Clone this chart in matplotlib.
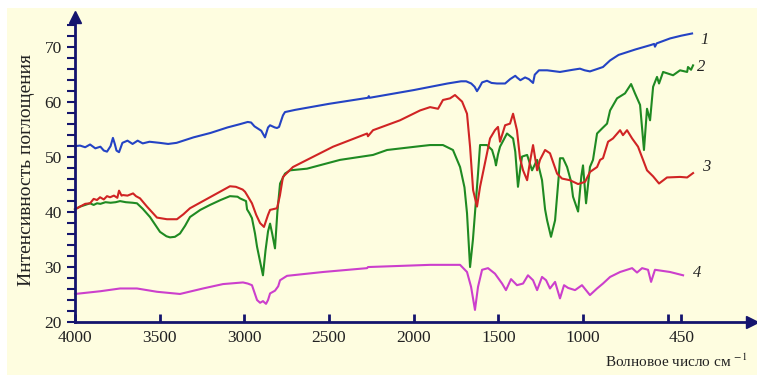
import matplotlib
matplotlib.use("Agg")
import matplotlib.pyplot as plt
from matplotlib.patches import Rectangle
from matplotlib.ticker import MultipleLocator

plt.rcParams['font.family'] = ['Liberation Serif', 'DejaVu Serif']
plt.rcParams['mathtext.fontset'] = 'stix'

# Spectrum 1 (blue)
w1 = [4000, 3970, 3940, 3911, 3880, 3850, 3830, 3811, 3790, 3776, 3765, 3755, 3740, 3720,
      3690, 3660, 3630, 3600, 3560, 3500, 3450, 3400, 3300, 3200, 3100, 3026, 2980, 2960,
      2940, 2900, 2878, 2860, 2848, 2820, 2807, 2795, 2772, 2760, 2700, 2500, 2270, 2265,
      2260, 2000, 1800, 1720, 1690, 1660, 1640, 1626, 1610, 1596, 1567, 1540, 1508, 1460,
      1430, 1400, 1390, 1370, 1342, 1320, 1295, 1285, 1260, 1212, 1136, 1060, 1018, 990,
      959, 920, 882, 840, 790, 740, 690, 645, 600, 580, 575, 565, 486, 420, 356]
s1 = [52.0, 52.1, 51.8, 52.3, 51.6, 51.9, 51.2, 51.0, 52.0, 53.5, 52.4, 51.2, 50.9, 52.6,
      53.0, 52.4, 53.0, 52.5, 52.8, 52.6, 52.4, 52.6, 53.6, 54.4, 55.4, 56.0, 56.4, 56.3,
      55.6, 54.8, 53.6, 55.4, 55.8, 55.4, 55.3, 55.5, 57.6, 58.2, 58.6, 59.7, 60.8, 61.1,
      60.8, 62.2, 63.4, 63.8, 63.8, 63.4, 62.8, 62.0, 62.8, 63.6, 63.9, 63.5, 63.4, 63.4,
      64.2, 64.8, 64.5, 64.0, 64.5, 64.2, 63.5, 65.0, 65.8, 65.8, 65.5, 65.9, 66.1, 65.8,
      65.6, 66.0, 66.4, 67.6, 68.6, 69.1, 69.6, 70.0, 70.4, 70.6, 70.1, 70.7, 71.6, 72.1, 72.5]

# Spectrum 2 (green)
w2 = [4000, 3970, 3940, 3911, 3890, 3870, 3850, 3820, 3790, 3760, 3734, 3700, 3660, 3634,
      3600, 3557, 3498, 3460, 3439, 3410, 3380, 3350, 3321, 3260, 3203, 3140, 3085, 3040,
      3026, 2990, 2984, 2970, 2955, 2937, 2925, 2907, 2890, 2875, 2860, 2848, 2835, 2819,
      2805, 2789, 2760, 2730, 2630, 2435, 2240, 2157, 1962, 1903, 1827, 1768, 1726, 1700,
      1685, 1667, 1650, 1638, 1620, 1608, 1567, 1537, 1520, 1514, 1502, 1490, 1449, 1413,
      1400, 1384, 1370, 1360, 1330, 1301, 1271, 1242, 1224, 1212, 1189, 1165, 1142, 1136,
      1118, 1094, 1070, 1059, 1029, 1010, 1000, 982, 959, 941, 917, 888, 858, 840, 799,
      752, 716, 693, 663, 640, 622, 604, 586, 563, 551, 527, 468, 427, 385, 380, 362, 350]
s2 = [40.5, 41.0, 41.3, 41.6, 41.3, 41.6, 41.5, 41.8, 41.7, 41.8, 42.0, 41.8, 41.7, 41.6,
      40.6, 39.1, 36.4, 35.6, 35.4, 35.5, 36.1, 37.5, 39.1, 40.4, 41.3, 42.2, 42.9, 42.8,
      42.5, 42.0, 40.5, 39.8, 38.9, 36.1, 33.7, 31.0, 28.5, 33.0, 36.5, 37.9, 36.0, 33.4,
      40.0, 45.2, 47.0, 47.6, 47.9, 49.5, 50.4, 51.3, 52.0, 52.2, 52.2, 51.3, 48.2, 44.5,
      39.8, 30.0, 35.0, 39.8, 47.0, 52.2, 52.2, 51.3, 49.5, 48.5, 50.5, 51.9, 54.3, 53.4,
      51.0, 44.6, 48.0, 50.1, 50.4, 47.6, 49.5, 45.8, 40.5, 38.5, 35.5, 38.5, 47.0, 49.8,
      49.8, 48.2, 45.5, 42.8, 40.1, 46.5, 48.5, 41.6, 48.2, 49.5, 54.3, 55.2, 56.1, 58.5, 60.7,
      61.6, 63.3, 61.6, 59.5, 51.3, 58.8, 56.7, 62.8, 64.6, 63.4, 65.5, 64.9, 65.8, 65.5, 66.4, 65.9, 66.7]

# Spectrum 3 (red)
w3 = [4000, 3970, 3940, 3911, 3890, 3870, 3852, 3830, 3811, 3793, 3770, 3750, 3740, 3725,
      3717, 3690, 3657, 3640, 3616, 3575, 3516, 3457, 3398, 3360, 3321, 3203, 3085, 3050,
      3026, 3010, 2996, 2984, 2955, 2930, 2907, 2884, 2860, 2848, 2807, 2790, 2772, 2713,
      2630, 2476, 2275, 2270, 2240, 2081, 1962, 1903, 1856, 1827, 1785, 1756, 1714, 1685,
      1667, 1649, 1626, 1608, 1567, 1549, 1520, 1502, 1490, 1460, 1431, 1413, 1390, 1372,
      1354, 1330, 1313, 1295, 1271, 1254, 1224, 1195, 1153, 1124, 1077, 1029, 988, 959,
      917, 899, 882, 852, 823, 781, 764, 740, 710, 675, 622, 586, 551, 504, 427, 385, 350]
s3 = [40.5, 41.0, 41.5, 41.6, 42.4, 42.2, 42.7, 42.3, 42.9, 42.7, 43.0, 42.6, 43.9, 43.0,
      43.1, 43.0, 43.4, 42.9, 42.5, 41.0, 39.0, 38.7, 38.7, 39.6, 40.7, 42.7, 44.7, 44.6,
      44.3, 44.1, 43.7, 43.1, 41.6, 39.5, 38.0, 37.3, 39.5, 40.4, 40.7, 43.0, 46.4, 48.2,
      49.5, 51.9, 54.3, 53.8, 54.9, 56.7, 58.5, 59.1, 58.8, 60.4, 60.7, 61.3, 60.1, 57.9,
      51.9, 44.0, 41.0, 44.6, 50.7, 53.4, 54.9, 55.5, 52.8, 55.8, 56.1, 57.9, 54.9, 49.8,
      47.6, 45.8, 49.2, 52.2, 47.6, 49.5, 51.3, 50.7, 47.0, 46.1, 45.8, 45.1, 45.5, 47.3,
      48.2, 49.5, 49.8, 52.8, 53.4, 54.9, 54.0, 54.9, 53.4, 51.9, 47.6, 46.5, 45.2, 46.3, 46.4, 46.3, 47.1]

# Spectrum 4 (magenta)
w4 = [4000, 3850, 3734, 3634, 3516, 3380, 3244, 3126, 3008, 2980, 2955, 2925, 2907, 2890,
      2872, 2860, 2848, 2819, 2800, 2789, 2748, 2535, 2275, 2270, 1903, 1726, 1685, 1661,
      1638, 1620, 1596, 1561, 1520, 1478, 1455, 1425, 1390, 1354, 1325, 1295, 1271, 1242,
      1218, 1195, 1165, 1136, 1112, 1088, 1047, 1006, 959, 917, 882, 840, 781, 710, 681,
      651, 616, 598, 575, 486, 409]
s4 = [25.1, 25.6, 26.1, 26.1, 25.5, 25.1, 26.1, 26.9, 27.2, 27.0, 26.7, 24.0, 23.5, 23.8,
      23.3, 24.0, 25.2, 25.7, 26.5, 27.6, 28.4, 29.1, 29.8, 30.0, 30.4, 30.4, 29.1, 26.4,
      22.2, 26.4, 29.5, 29.8, 28.8, 27.0, 25.8, 27.8, 26.7, 27.0, 28.5, 27.6, 25.8, 28.2,
      27.6, 26.1, 27.3, 24.3, 26.7, 26.2, 25.8, 26.7, 24.9, 26.1, 27.0, 28.2, 29.1, 29.8, 29.0,
      29.8, 29.5, 27.3, 29.5, 29.1, 28.5]

curve_labels = ['1', '2', '3', '4']
label_x = [309, 326, 297, 350]
label_y = [71.3, 66.4, 48.2, 28.9]

x_ticks = [4000, 3500, 3000, 2500, 2000, 1500, 1000, 500, 420]
x_ticklabels = ['4000', '3500', '3000', '2500', '2000', '1500', '1000', '', '450']

colors = ['#2443c4', '#1f8a22', '#d02424', '#cc3fcc']
navy = '#14146e'
bg = '#fefde0'

fig = plt.figure(figsize=(7.57, 3.75), dpi=100)
fig.patch.set_facecolor('white')
fig.patches.append(Rectangle((7 / 757, 0), 1, 1 - 8 / 375, transform=fig.transFigure,
                             facecolor=bg, edgecolor='none', zorder=-10))

ax = fig.add_axes([75 / 757, 53 / 375, 677 / 757, 305 / 375])
ax.set_facecolor('none')

for w, s, c in zip([w1, w2, w3, w4], [s1, s2, s3, s4], colors):
    ax.plot(w, s, color=c, lw=1.5, clip_on=False)

for t, x, y in zip(curve_labels, label_x, label_y):
    ax.text(x, y, t, fontsize=12, style='italic', color='#222222', ha='left', va='center')

ax.set_xlim(4000, 2)
ax.set_ylim(20, 75.5)

for sp in ['top', 'right']:
    ax.spines[sp].set_visible(False)
for sp in ['left', 'bottom']:
    ax.spines[sp].set_color(navy)
    ax.spines[sp].set_linewidth(2)
ax.plot(1, 0, '>', color=navy, ms=8, transform=ax.transAxes, clip_on=False)
ax.plot(0, 1, '^', color=navy, ms=8, transform=ax.transAxes, clip_on=False)

ax.set_xticks(x_ticks)
ax.set_xticklabels(x_ticklabels)
ax.tick_params(axis='x', direction='in', length=6, width=2, color=navy,
               labelsize=12.5, pad=6, labelcolor='#222222')
ax.yaxis.set_major_locator(MultipleLocator(10))
ax.yaxis.set_minor_locator(MultipleLocator(2))
ax.tick_params(axis='y', which='both', direction='out', length=6, width=1.5, color=navy,
               labelsize=12.5, labelcolor='#222222')

fig.text(27 / 757, 1 - 170 / 375, 'Интенсивность поглощения', rotation=90,
         ha='center', va='center', fontsize=14, color='#222222')
fig.text(747 / 757, 1 - 361 / 375, 'Волновое число см $^{-1}$', ha='right', va='center',
         fontsize=11, color='#222222')

fig.savefig('out.png', dpi=100, facecolor=fig.get_facecolor())
